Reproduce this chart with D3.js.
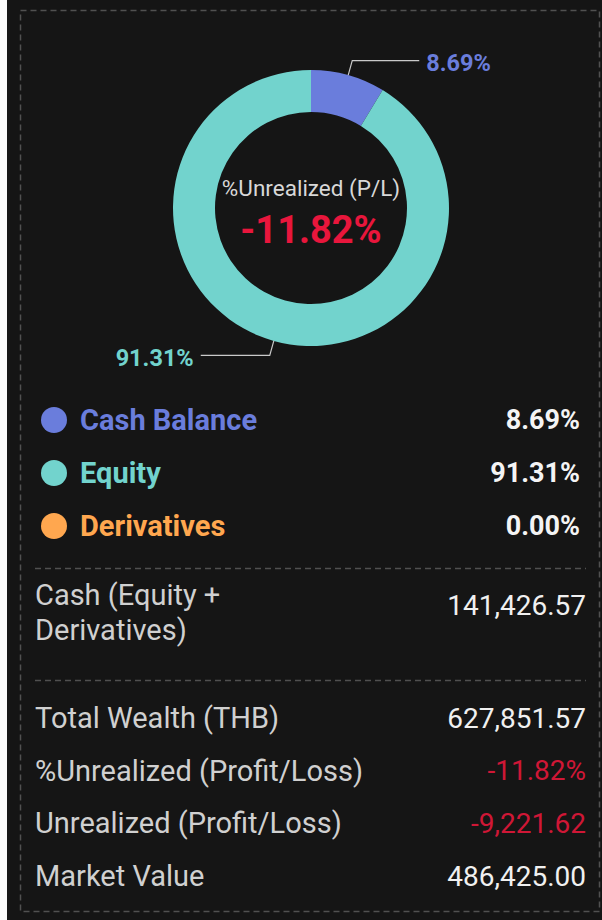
<!DOCTYPE html>
<html>
<head>
<meta charset="utf-8">
<script src="https://cdn.jsdelivr.net/npm/d3@7"></script>
<style>
  html, body { margin: 0; padding: 0; background: #fafafa; }
  svg { display: block; font-family: Roboto, "Noto Sans", sans-serif; }
</style>
</head>
<body>
<svg width="602" height="920"></svg>
<script>
  const categories = ['Cash Balance', 'Equity', 'Derivatives'];
  const shares = [8.69, 91.31, 0.00];
  const shareColors = ['#6a7ddc', '#72d3cd', '#ffa74f'];

  const centerTitle = '%Unrealized (P/L)';
  const centerValue = '-11.82%';

  const cashLabel = ['Cash (Equity +', 'Derivatives)'];
  const cashValue = '141,426.57';

  const detailLabels = ['Total Wealth (THB)', '%Unrealized (Profit/Loss)', 'Unrealized (Profit/Loss)', 'Market Value'];
  const detailValues = ['627,851.57', '-11.82%', '-9,221.62', '486,425.00'];
  const detailNegative = [false, true, true, false];

  const svg = d3.select('svg');
  const width = +svg.attr('width');
  const height = +svg.attr('height');

  // panel
  svg.append('rect')
    .attr('x', 7).attr('y', 0)
    .attr('width', width - 7).attr('height', height)
    .attr('fill', '#151515');

  svg.append('rect')
    .attr('x', 20.5).attr('y', 10.5)
    .attr('width', 579).attr('height', 901)
    .attr('fill', 'none')
    .attr('stroke', '#505050')
    .attr('stroke-width', 1.5)
    .attr('stroke-dasharray', '6,4');

  // doughnut
  const cx = 311, cy = 208;
  const outerR = 138, innerR = 96;

  const data = categories.map((c, i) => ({ name: c, value: shares[i], color: shareColors[i] }));

  const pie = d3.pie().sort(null).value(d => d.value);
  const arc = d3.arc().innerRadius(innerR).outerRadius(outerR);
  const edge = d3.arc().innerRadius(outerR).outerRadius(outerR);
  const elbow = d3.arc().innerRadius(outerR + 15).outerRadius(outerR + 15);

  const g = svg.append('g').attr('transform', `translate(${cx},${cy})`);

  const arcs = pie(data);

  g.selectAll('path.slice').data(arcs).enter()
    .append('path')
      .attr('class', 'slice')
      .attr('d', arc)
      .attr('fill', d => d.data.color);

  const labelled = arcs.filter(d => d.data.value > 0);

  g.selectAll('polyline').data(labelled).enter()
    .append('polyline')
      .attr('fill', 'none')
      .attr('stroke', '#c9c9c9')
      .attr('stroke-width', 1.2)
      .attr('points', d => {
        const a = edge.centroid(d);
        const b = elbow.centroid(d);
        const right = b[0] >= 0;
        const c = [b[0] + (right ? 67 : -69), b[1]];
        return [a, b, c].map(p => p.join(',')).join(' ');
      });

  g.selectAll('text.pct').data(labelled).enter()
    .append('text')
      .attr('class', 'pct')
      .attr('x', d => {
        const b = elbow.centroid(d);
        return b[0] >= 0 ? b[0] + 74 : b[0] - 76;
      })
      .attr('y', d => elbow.centroid(d)[1] + 2)
      .attr('dy', '0.35em')
      .attr('text-anchor', d => elbow.centroid(d)[0] >= 0 ? 'start' : 'end')
      .attr('fill', d => d.data.color)
      .attr('font-size', 23.5)
      .attr('font-weight', 'bold')
      .text(d => d.data.value.toFixed(2) + '%');

  g.append('text')
    .attr('y', -20)
    .attr('dy', '0.35em')
    .attr('text-anchor', 'middle')
    .attr('fill', '#d8d8d8')
    .attr('font-size', 22.5)
    .text(centerTitle);

  g.append('text')
    .attr('y', 22)
    .attr('dy', '0.35em')
    .attr('text-anchor', 'middle')
    .attr('fill', '#e8163c')
    .attr('font-size', 38)
    .attr('font-weight', 'bold')
    .text(centerValue);

  // legend
  const legendY = d3.scalePoint().domain(categories).range([420, 526]);

  const legend = svg.selectAll('g.legend').data(data).enter()
    .append('g')
      .attr('class', 'legend')
      .attr('transform', d => `translate(0,${legendY(d.name)})`);

  legend.append('circle')
    .attr('cx', 54).attr('r', 13)
    .attr('fill', d => d.color);

  legend.append('text')
    .attr('x', 80)
    .attr('dy', '0.35em')
    .attr('fill', d => d.color)
    .attr('font-size', 29)
    .attr('font-weight', 'bold')
    .text(d => d.name);

  legend.append('text')
    .attr('x', 580)
    .attr('dy', '0.35em')
    .attr('text-anchor', 'end')
    .attr('fill', '#f4f4f4')
    .attr('font-size', 27)
    .attr('font-weight', 'bold')
    .text(d => d.value.toFixed(2) + '%');

  // separators
  [568, 680].forEach(y => {
    svg.append('line')
      .attr('x1', 35).attr('x2', 586)
      .attr('y1', y + 0.5).attr('y2', y + 0.5)
      .attr('stroke', '#505050')
      .attr('stroke-width', 1.5)
      .attr('stroke-dasharray', '6,4');
  });

  // cash block
  svg.append('text')
    .attr('x', 35).attr('y', 605)
    .attr('dy', '0.35em')
    .attr('fill', '#d0d0d0')
    .attr('font-size', 29)
    .selectAll('tspan').data(cashLabel).enter()
    .append('tspan')
      .attr('x', 35)
      .attr('dy', (d, i) => i === 0 ? 0 : 35)
      .text(d => d);

  svg.append('text')
    .attr('x', 586).attr('y', 605)
    .attr('dy', '0.35em')
    .attr('text-anchor', 'end')
    .attr('fill', '#f0f0f0')
    .attr('font-size', 28)
    .text(cashValue);

  // detail rows
  const rowY = d3.scalePoint().domain(detailLabels).range([718, 876]);

  const rows = svg.selectAll('g.row').data(detailLabels).enter()
    .append('g')
      .attr('class', 'row')
      .attr('transform', d => `translate(0,${rowY(d)})`);

  rows.append('text')
    .attr('x', 35)
    .attr('dy', '0.35em')
    .attr('fill', '#d0d0d0')
    .attr('font-size', 29)
    .text(d => d);

  rows.append('text')
    .attr('x', 586)
    .attr('dy', '0.35em')
    .attr('text-anchor', 'end')
    .attr('fill', (d, i) => detailNegative[i] ? '#cf1736' : '#f0f0f0')
    .attr('font-size', 28)
    .text((d, i) => detailValues[i]);
</script>
</body>
</html>
